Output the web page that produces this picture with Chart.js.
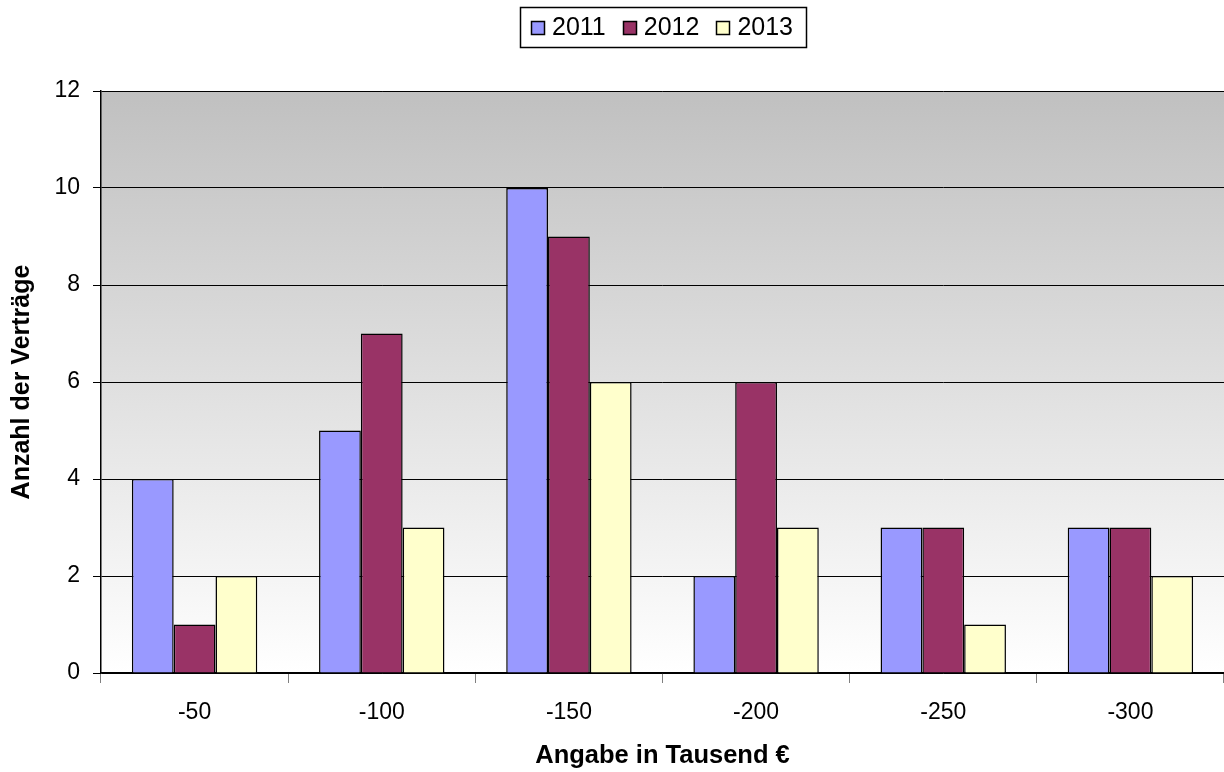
<!DOCTYPE html>
<html>
<head>
<meta charset="utf-8">
<title>Anzahl der Verträge</title>
<script src="https://cdn.jsdelivr.net/npm/chart.js@4"></script>
<style>html,body{margin:0;padding:0;background:#fff}#wrap{width:1224px;height:772px}</style>
</head>
<body>
<div id="wrap"><canvas id="chart" width="1224" height="772"></canvas></div>
<script>
const categories = ['-50', '-100', '-150', '-200', '-250', '-300'];
const seriesNames = ['2011', '2012', '2013'];
const values2011 = [4, 5, 10, 2, 3, 3];
const values2012 = [1, 7, 9, 6, 3, 3];
const values2013 = [2, 3, 6, 3, 1, 2];
const yTicks = [0, 2, 4, 6, 8, 10, 12];
const colors = ['#9999ff', '#993366', '#ffffcc'];

const FONT = '"Liberation Sans", Arial, sans-serif';

// gradient plot background
const bgPlugin = {
  id: 'plotBg',
  beforeDraw(chart) {
    const a = chart.chartArea, ctx = chart.ctx;
    const g = ctx.createLinearGradient(0, a.top, 0, a.bottom);
    g.addColorStop(0, '#c0c0c0');
    g.addColorStop(1, '#ffffff');
    ctx.save();
    ctx.fillStyle = g;
    ctx.fillRect(a.left, a.top, a.right - a.left, a.bottom - a.top);
    ctx.restore();
  }
};

// boxed legend centred over the plot area
const legendPlugin = {
  id: 'boxLegend',
  afterDraw(chart) {
    const ctx = chart.ctx, a = chart.chartArea;
    ctx.save();
    ctx.font = '25px ' + FONT;
    const box = 13, gap = 8, itemGap = 17, padL = 11, padR = 13;
    const widths = chart.data.datasets.map(d => box + gap + ctx.measureText(d.label).width);
    const total = widths.reduce((s, w) => s + w, 0) + itemGap * (widths.length - 1) + padL + padR;
    const cx = (a.left + a.right) / 2;
    const top = 7, h = 40;
    let x = Math.round(cx - total / 2);
    ctx.strokeStyle = '#000';
    ctx.lineWidth = 1.5;
    ctx.strokeRect(x + 0.5, top + 0.5, Math.round(total), h);
    x += padL;
    const cy = top + h / 2 + 0.5;
    chart.data.datasets.forEach((d, i) => {
      const bx = Math.round(x) + 0.5, by = Math.round(cy - box / 2) + 0.5;
      ctx.fillStyle = d.backgroundColor;
      ctx.fillRect(bx, by, box, box);
      ctx.strokeRect(bx, by, box, box);
      ctx.fillStyle = '#000';
      ctx.textBaseline = 'middle';
      ctx.fillText(d.label, x + box + gap, cy + 1);
      x += widths[i] + itemGap;
    });
    ctx.restore();
  }
};

new Chart(document.getElementById('chart'), {
  type: 'bar',
  data: {
    labels: categories,
    datasets: [values2011, values2012, values2013].map((v, i) => ({
      label: seriesNames[i],
      data: v,
      backgroundColor: colors[i],
      borderColor: '#000',
      borderWidth: 1.5,
      categoryPercentage: 0.67,
      barPercentage: 1.0
    }))
  },
  options: {
    responsive: false,
    animation: false,
    layout: { padding: { top: 91, right: 0, left: 0, bottom: 0 } },
    plugins: { legend: { display: false }, tooltip: { enabled: false } },
    scales: {
      x: {
        afterFit(axis) { axis.height = 99; },
        grid: { drawOnChartArea: false, drawTicks: true, tickLength: 10, color: '#808080', offset: true },
        border: { color: '#000', width: 1.5 },
        ticks: { color: '#000', font: { family: FONT, size: 23 }, padding: 16 },
        title: { display: true, text: 'Angabe in Tausend €', color: '#000', font: { family: FONT, size: 25.5, weight: 'bold' }, padding: { top: 0, bottom: 1 } }
      },
      y: {
        min: 0, max: 12,
        afterBuildTicks(axis) { axis.ticks = yTicks.map(v => ({ value: v })); },
        afterFit(axis) { axis.width = 101; },
        grid: { color: '#000', lineWidth: 1, tickLength: 8, drawTicks: true },
        border: { color: '#000', width: 1.5 },
        ticks: { color: '#000', font: { family: FONT, size: 23 }, padding: 13 },
        title: { display: true, text: 'Anzahl der Verträge', color: '#000', font: { family: FONT, size: 25, weight: 'bold' }, padding: { top: 7, bottom: 0 } }
      }
    }
  },
  plugins: [bgPlugin, legendPlugin]
});
</script>
</body>
</html>
